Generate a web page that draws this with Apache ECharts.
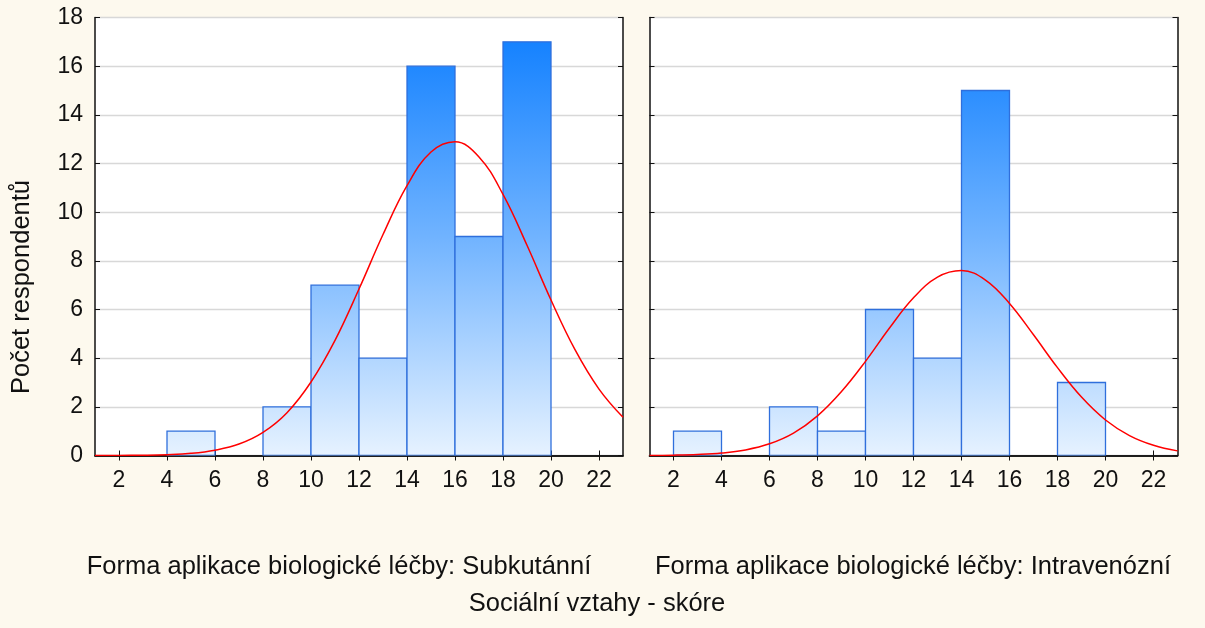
<!DOCTYPE html>
<html>
<head>
<meta charset="utf-8">
<script src="https://cdn.jsdelivr.net/npm/echarts@6/dist/echarts.min.js"></script>
<style>
html,body{margin:0;padding:0;background:#fdf9ee;}
#chart{width:1205px;height:628px;}
</style>
</head>
<body>
<div id="chart"></div>
<script>
// ---- data ----
var binWidth = 2;
var subBinStarts = [4, 8, 10, 12, 14, 16, 18];
var subCounts    = [1, 2, 7, 4, 16, 9, 17];
var ivBinStarts  = [2, 6, 8, 10, 12, 14, 18];
var ivCounts     = [1, 2, 1, 6, 4, 15, 3];
var curveX   = [1,2,3,4,5,6,7,8,9,10,11,12,13,14,15,16,17,18,19,20,21,22,23];
var subCurve = [0.001,0.004,0.012,0.035,0.09,0.22,0.47,0.95,1.76,3.02,4.73,6.84,9.08,11.09,12.47,12.89,12.27,10.73,8.64,6.39,4.35,2.73,1.57];
var ivCurve  = [0.005,0.014,0.04,0.10,0.23,0.48,0.92,1.63,2.63,3.87,5.24,6.48,7.33,7.60,7.21,6.25,4.96,3.61,2.40,1.46,0.82,0.42,0.19];
var xTicks = [2,4,6,8,10,12,14,16,18,20,22];
var panelTitles = ['Forma aplikace biologické léčby: Subkutánní', 'Forma aplikace biologické léčby: Intravenózní'];
var xTitle = 'Sociální vztahy - skóre';
var yTitle = 'Počet respondentů';

// ---- chart ----
var FONT = '"Liberation Sans", Arial, sans-serif';
var chart = echarts.init(document.getElementById('chart'));

function histData(starts, counts){
  return starts.map(function(s,i){ return [s, s + binWidth, counts[i]]; });
}
function curveData(ys){ return curveX.map(function(x,i){ return [x, ys[i]]; }); }

function renderBar(params, api){
  var p0 = api.coord([api.value(0), 0]);
  var p1 = api.coord([api.value(1), api.value(2)]);
  var yTop = api.coord([0, 18])[1];
  var yBot = api.coord([0, 0])[1];
  return {
    type: 'rect',
    shape: { x: p0[0], y: p1[1], width: p1[0] - p0[0], height: p0[1] - p1[1] },
    style: {
      fill: new echarts.graphic.LinearGradient(0, yTop, 0, yBot, [
        {offset: 0, color: '#0a7cff'},
        {offset: 0.5, color: '#70b3ff'},
        {offset: 1, color: '#e6f2ff'}
      ], true),
      stroke: '#2f6fdc',
      lineWidth: 1.3
    }
  };
}

var axisLineStyle = { lineStyle: { color: '#111', width: 1.5 } };
function xAxes(gi){
  return [{
    type: 'value', gridIndex: gi, position: 'bottom', min: 1, max: 23,
    axisLine: axisLineStyle,
    axisTick: { inside: true, length: 5, lineStyle: { color: '#111' }, customValues: xTicks },
    axisLabel: { customValues: xTicks, color: '#111', fontSize: 23, fontFamily: FONT, margin: 14 },
    splitLine: { show: false }
  }, {
    type: 'value', gridIndex: gi, position: 'top', min: 1, max: 23,
    axisLine: axisLineStyle,
    axisTick: { inside: true, length: 5, lineStyle: { color: '#111' }, customValues: xTicks },
    axisLabel: { show: false },
    splitLine: { show: false }
  }];
}
function yAxes(gi, showLabels){
  return [{
    type: 'value', gridIndex: gi, position: 'left', min: 0, max: 18, interval: 2,
    axisLine: { show: true, lineStyle: { color: '#111', width: 1.5 } },
    axisTick: { show: true, inside: true, length: 5, lineStyle: { color: '#111' } },
    axisLabel: { show: showLabels, color: '#111', fontSize: 23, fontFamily: FONT, margin: 12 },
    splitLine: { show: true, lineStyle: { color: '#d8d8d8', width: 1.3 } }
  }, {
    type: 'value', gridIndex: gi, position: 'right', min: 0, max: 18, interval: 2,
    axisLine: { show: true, lineStyle: { color: '#111', width: 1.5 } },
    axisTick: { show: true, inside: true, length: 5, lineStyle: { color: '#111' } },
    axisLabel: { show: false },
    splitLine: { show: false }
  }];
}

var option = {
  backgroundColor: '#fdf9ee',
  animation: false,
  grid: [
    { left: 95, top: 17.5, width: 528, height: 438, backgroundColor: '#fff', show: true, borderWidth: 0 },
    { left: 649.5, top: 17.5, width: 528, height: 438, backgroundColor: '#fff', show: true, borderWidth: 0 }
  ],
  xAxis: xAxes(0).concat(xAxes(1)),
  yAxis: yAxes(0, true).concat(yAxes(1, false)),
  series: [
    { type: 'custom', xAxisIndex: 0, yAxisIndex: 0, renderItem: renderBar, data: histData(subBinStarts, subCounts), encode: { x: [0,1], y: 2 }, clip: true },
    { type: 'custom', xAxisIndex: 2, yAxisIndex: 2, renderItem: renderBar, data: histData(ivBinStarts, ivCounts), encode: { x: [0,1], y: 2 }, clip: true },
    { type: 'line', xAxisIndex: 0, yAxisIndex: 0, data: curveData(subCurve), smooth: 0.4, showSymbol: false, lineStyle: { color: '#ff0000', width: 1.5 }, z: 5 },
    { type: 'line', xAxisIndex: 2, yAxisIndex: 2, data: curveData(ivCurve), smooth: 0.4, showSymbol: false, lineStyle: { color: '#ff0000', width: 1.5 }, z: 5 }
  ],
  graphic: [
    { type: 'text', x: 339, y: 567, style: { text: panelTitles[0], fill: '#111', font: '25.5px ' + FONT, align: 'center', verticalAlign: 'middle' } },
    { type: 'text', x: 913, y: 567, style: { text: panelTitles[1], fill: '#111', font: '25.5px ' + FONT, align: 'center', verticalAlign: 'middle' } },
    { type: 'text', x: 597, y: 604, style: { text: xTitle, fill: '#111', font: '25.5px ' + FONT, align: 'center', verticalAlign: 'middle' } },
    { type: 'text', x: 22, y: 287, rotation: Math.PI / 2, style: { text: yTitle, fill: '#111', font: '25.5px ' + FONT, align: 'center', verticalAlign: 'middle' } }
  ]
};
chart.setOption(option);
</script>
</body>
</html>
